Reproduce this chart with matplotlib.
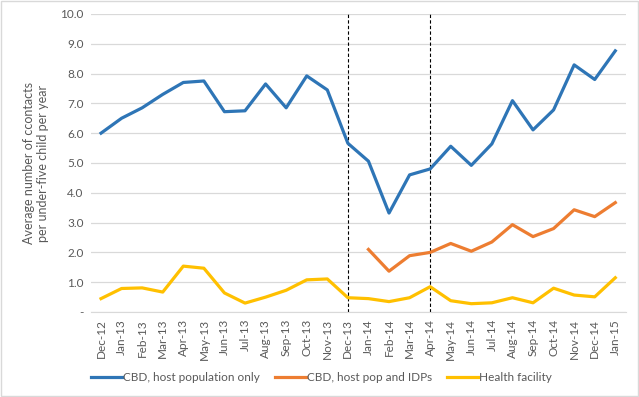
import matplotlib.pyplot as plt
import numpy as np

months = ["Dec-12", "Jan-13", "Feb-13", "Mar-13", "Apr-13", "May-13", "Jun-13",
          "Jul-13", "Aug-13", "Sep-13", "Oct-13", "Nov-13", "Dec-13", "Jan-14",
          "Feb-14", "Mar-14", "Apr-14", "May-14", "Jun-14", "Jul-14", "Aug-14",
          "Sep-14", "Oct-14", "Nov-14", "Dec-14", "Jan-15"]

host_only = [6.0, 6.5, 6.85, 7.3, 7.7, 7.75, 6.72, 6.75, 7.65, 6.85, 7.92, 7.45,
             5.66, 5.06, 3.32, 4.6, 4.8, 5.56, 4.92, 5.64, 7.09, 6.11, 6.78,
             8.29, 7.8, 8.76]
# orange series starts at Jan-14
host_idp = [None] * 13 + [2.1, 1.37, 1.89, 2.0, 2.3, 2.04, 2.35, 2.93, 2.53,
                          2.8, 3.43, 3.2, 3.67]
health_facility = [0.45, 0.79, 0.81, 0.67, 1.54, 1.47, 0.64, 0.3, 0.5, 0.73,
                   1.08, 1.11, 0.48, 0.45, 0.35, 0.48, 0.85, 0.38, 0.28, 0.31,
                   0.48, 0.31, 0.8, 0.57, 0.51, 1.15]

markers_at = ["Dec-13", "Apr-14"]
yticks = [0, 1, 2, 3, 4, 5, 6, 7, 8, 9, 10]

plt.rcParams['font.family'] = ['Lato', 'DejaVu Sans']
grey = '#595959'

fig = plt.figure(figsize=(6.39, 3.97), dpi=100)
ax = fig.add_axes([0.142, 0.214, 0.837, 0.751])

x = np.arange(len(months))
idp = np.array([np.nan if v is None else v for v in host_idp])

ax.plot(x, host_only, color='#2E75B6', lw=2.3, label='CBD, host population only')
ax.plot(x, idp, color='#ED7D31', lw=2.3, label='CBD, host pop and IDPs')
ax.plot(x, health_facility, color='#FFC000', lw=2.3, label='Health facility')

for m in markers_at:
    ax.axvline(months.index(m), color='black', lw=0.8, ls=(0, (3, 2)), zorder=1)

ax.set_xlim(-0.5, len(months) - 0.5)
ax.set_ylim(0, 10)
ax.set_yticks(yticks)
ax.set_yticklabels(['-' if t == 0 else f"{t:.1f}" for t in yticks])
ax.set_xticks(x)
ax.set_xticklabels(months, rotation=90)
ax.tick_params(length=0, labelsize=8.5, colors=grey, pad=5)
ax.grid(axis='y', color='#D9D9D9', lw=0.9)
ax.set_axisbelow(True)
for s in ['top', 'right', 'left']:
    ax.spines[s].set_visible(False)
ax.spines['bottom'].set_color('#D9D9D9')

ax.set_ylabel('Average number of ccontacts\nper under-five child per year',
              fontsize=9, color=grey, labelpad=8)

fig.legend(loc='center', bbox_to_anchor=(0.503, 0.048), ncol=3, frameon=False,
           fontsize=8.5, labelcolor=grey, handlelength=2.6, handletextpad=0.1,
           columnspacing=1.3)

fig.patches.append(plt.Rectangle((0.002, 0.002), 0.996, 0.996, transform=fig.transFigure,
                                 fill=False, edgecolor='#D9D9D9', lw=1))

fig.savefig('out.png', dpi=100)
